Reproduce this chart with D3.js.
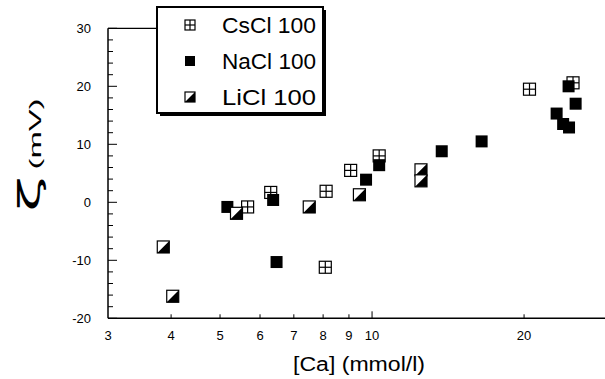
<!DOCTYPE html>
<html><head><meta charset="utf-8">
<script src="https://cdn.jsdelivr.net/npm/d3@7"></script>
<style>body{margin:0;background:#fff}svg{display:block}</style>
</head><body>
<svg id="chart" width="605" height="379"></svg>
<script>
// ---- data ----
const csclX = [5.67, 6.30, 8.08, 8.11, 9.07, 10.33, 20.5, 25.0];
const csclY = [-0.8, 1.7, -11.2, 1.9, 5.5, 8.0, 19.5, 20.6];
const naclX = [5.17, 6.37, 6.47, 9.73, 10.33, 13.74, 16.48, 23.2, 23.9, 24.55, 24.5, 25.3];
const naclY = [-0.8, 0.4, -10.3, 3.9, 6.4, 8.8, 10.5, 15.3, 13.5, 12.9, 20.0, 17.0];
const liclX = [3.86, 4.03, 5.39, 7.51, 9.44, 12.5, 12.5];
const liclY = [-7.7, -16.2, -1.9, -0.8, 1.3, 5.6, 3.7];
const seriesNames = ["CsCl 100", "NaCl 100", "LiCl 100"];
const xTickValues = [3, 4, 5, 6, 7, 8, 9, 10, 20];
const xTickLabels = ["3", "4", "5", "6", "7", "8", "9", "10", "20"];
const yMajorTicks = [-20, -10, 0, 10, 20, 30];
const xTitle = "[Ca] (mmol/l)";
const yTitleSym = "ζ";
const yTitleUnit = "(mV)";

const svg = d3.select("#chart");
const FONT = "'Liberation Sans', Arial, Helvetica, sans-serif";

const x = d3.scaleLog().domain([3, 30]).range([108, 613]);
const y = d3.scaleLinear().domain([-20, 30]).range([318.3, 28.3]);

// axes lines
const g = svg.append("g");
g.append("line").attr("x1", x(3)).attr("x2", 605).attr("y1", y(-20)).attr("y2", y(-20))
  .attr("stroke", "#000").attr("stroke-width", 1.5);
g.append("line").attr("x1", x(3)).attr("x2", x(3)).attr("y1", y(-20)).attr("y2", y(30))
  .attr("stroke", "#000").attr("stroke-width", 1.5);
g.append("line").attr("x1", x(3)).attr("x2", 158).attr("y1", y(30)).attr("y2", y(30))
  .attr("stroke", "#000").attr("stroke-width", 1.3);

// y ticks (inward)
const yMinor = d3.range(-20, 31, 2);
g.selectAll(".ytick").data(yMinor).join("line")
  .attr("x1", x(3)).attr("x2", d => x(3) + (d % 10 === 0 ? 9 : 5))
  .attr("y1", d => y(d)).attr("y2", d => y(d))
  .attr("stroke", "#000").attr("stroke-width", 1);
g.selectAll(".ylab").data(yMajorTicks).join("text")
  .attr("x", 91).attr("y", d => y(d)).attr("dy", "0.35em")
  .attr("text-anchor", "end").attr("font-family", FONT).attr("font-size", 13)
  .text(d => d);

// x ticks (inward)
g.selectAll(".xtick").data(xTickValues.filter(d => d !== 3)).join("line")
  .attr("x1", d => x(d)).attr("x2", d => x(d))
  .attr("y1", y(-20)).attr("y2", d => y(-20) - (d === 10 ? 7 : 4))
  .attr("stroke", "#000").attr("stroke-width", 1);
g.selectAll(".xlab").data(xTickValues).join("text")
  .attr("x", d => x(d)).attr("y", 339.5)
  .attr("text-anchor", "middle").attr("font-family", FONT).attr("font-size", 13)
  .text((d, i) => xTickLabels[i]);

// titles
svg.append("text").attr("x", 359).attr("y", 371).attr("text-anchor", "middle")
  .attr("font-family", FONT).attr("font-size", 20)
  .attr("textLength", 132).attr("lengthAdjust", "spacingAndGlyphs")
  .text(xTitle);
svg.append("text").attr("transform", "translate(40,194) rotate(-90)")
  .attr("text-anchor", "middle").attr("font-family", "'DejaVu Sans', sans-serif").attr("font-size", 30)
  .attr("textLength", 36).attr("lengthAdjust", "spacingAndGlyphs")
  .text(yTitleSym);
svg.append("text").attr("transform", "translate(41,134) rotate(-90)")
  .attr("text-anchor", "middle").attr("font-family", FONT).attr("font-size", 17)
  .attr("textLength", 71).attr("lengthAdjust", "spacingAndGlyphs")
  .text(yTitleUnit);

// markers
function drawMarker(sel, kind, s) {
  const h = s / 2;
  if (kind === 0) {
    sel.append("rect").attr("x", -h).attr("y", -h).attr("width", s).attr("height", s)
      .attr("fill", "#fff").attr("stroke", "#000").attr("stroke-width", 1.2);
    sel.append("line").attr("x1", 0).attr("x2", 0).attr("y1", -h).attr("y2", h).attr("stroke", "#000").attr("stroke-width", 1.2);
    sel.append("line").attr("x1", -h).attr("x2", h).attr("y1", 0).attr("y2", 0).attr("stroke", "#000").attr("stroke-width", 1.2);
  } else if (kind === 1) {
    sel.append("rect").attr("x", -h).attr("y", -h).attr("width", s).attr("height", s).attr("fill", "#000");
  } else {
    sel.append("rect").attr("x", -h).attr("y", -h).attr("width", s).attr("height", s)
      .attr("fill", "#fff").attr("stroke", "#000").attr("stroke-width", 1.2);
    sel.append("path").attr("d", `M${h},${-h}L${h},${h}L${-h},${h}Z`).attr("fill", "#000");
  }
}
const allSeries = [
  csclX.map((v, i) => [v, csclY[i]]),
  naclX.map((v, i) => [v, naclY[i]]),
  liclX.map((v, i) => [v, liclY[i]])
];
allSeries.forEach((pts, k) => {
  svg.append("g").selectAll("g").data(pts).join("g")
    .attr("transform", d => `translate(${x(d[0])},${y(d[1])})`)
    .each(function () { drawMarker(d3.select(this), k, 12); });
});

// legend
const lg = svg.append("g");
lg.append("rect").attr("x", 160).attr("y", 10).attr("width", 166).attr("height", 106).attr("fill", "#000");
lg.append("rect").attr("x", 157).attr("y", 7).attr("width", 166).attr("height", 106)
  .attr("fill", "#fff").attr("stroke", "#000").attr("stroke-width", 2);
const legY = [25, 61, 97];
seriesNames.forEach((name, k) => {
  const m = lg.append("g").attr("transform", `translate(190,${legY[k]})`);
  drawMarker(m, k, 10);
  lg.append("text").attr("x", 222).attr("y", legY[k]).attr("dy", "0.36em")
    .attr("font-family", FONT).attr("font-size", 22)
    .attr("textLength", 94).attr("lengthAdjust", "spacingAndGlyphs")
    .text(name);
});
</script>
</body></html>
